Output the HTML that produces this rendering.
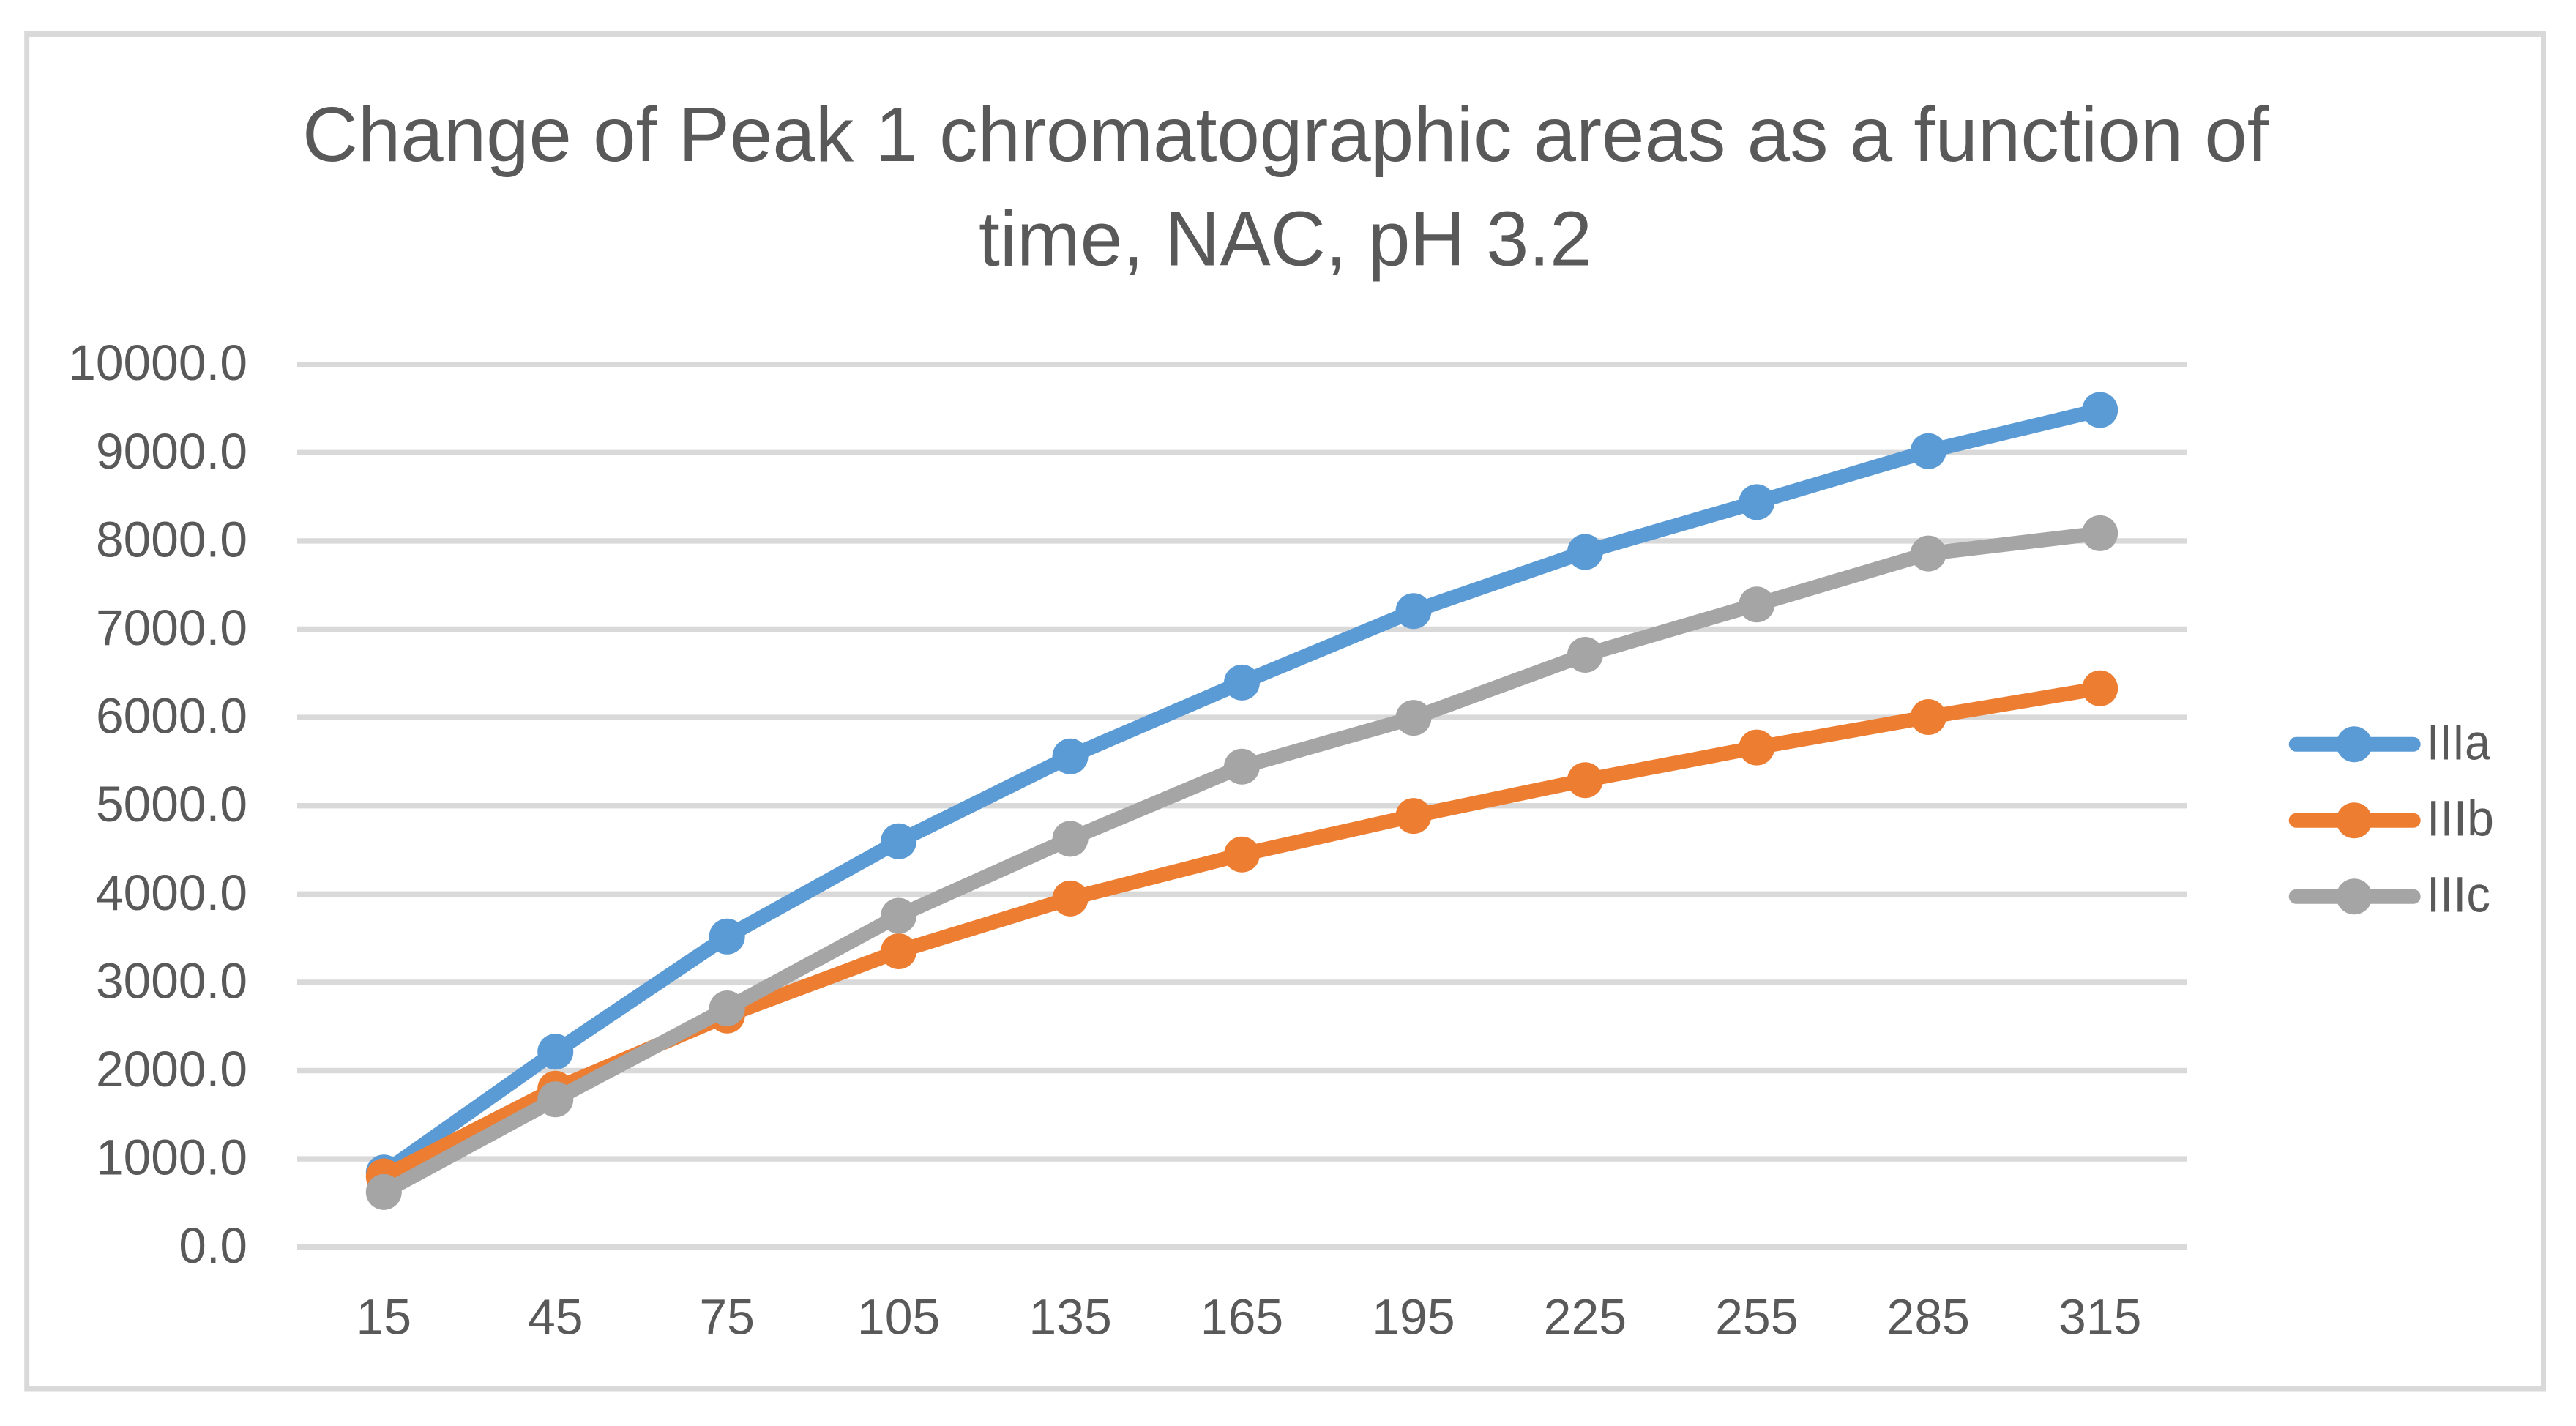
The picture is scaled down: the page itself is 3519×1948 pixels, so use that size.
<!DOCTYPE html>
<html lang="en">
<head>
<meta charset="utf-8">
<title>Change of Peak 1 chromatographic areas</title>
<style>
html,body{margin:0;padding:0;background:#fff;}
svg{display:block;}
text{font-family:"Liberation Sans",sans-serif;fill:#595959;}
</style>
</head>
<body>
<svg id="chart" xmlns="http://www.w3.org/2000/svg" width="3519" height="1948" viewBox="0 0 3519 1948">
  <rect x="0" y="0" width="3519" height="1948" fill="#ffffff"/>
  <rect x="36.7" y="46.5" width="3437.8" height="1850.5" fill="#ffffff" stroke="#d9d9d9" stroke-width="7"/>
  <g>
    <text x="413" y="220" font-size="106" textLength="2686" lengthAdjust="spacingAndGlyphs">Change of Peak 1 chromatographic areas as a function of</text>
    <text x="1337" y="362.7" font-size="106" textLength="838" lengthAdjust="spacingAndGlyphs">time, NAC, pH 3.2</text>
  </g>
  <g id="grid"></g>
  <g id="yticks"></g>
  <g id="xticks"></g>
  <g id="series"></g>
  <g id="legend"></g>
</svg>
<script>
const categories = [15, 45, 75, 105, 135, 165, 195, 225, 255, 285, 315];
const yTickValues = [0, 1000, 2000, 3000, 4000, 5000, 6000, 7000, 8000, 9000, 10000];
const yTickLabels = ["0.0", "1000.0", "2000.0", "3000.0", "4000.0", "5000.0", "6000.0", "7000.0", "8000.0", "9000.0", "10000.0"];
const seriesNames = ["IIIa", "IIIb", "IIIc"];
const seriesIIIa = [845, 2214, 3519, 4597, 5559, 6396, 7205, 7875, 8440, 9017, 9483];
const seriesIIIb = [802, 1795, 2624, 3352, 3950, 4448, 4885, 5290, 5660, 6005, 6330];
const seriesIIIc = [625, 1675, 2705, 3754, 4625, 5443, 5996, 6710, 7280, 7857, 8087];
const seriesColors = ["#5b9bd5", "#ed7d31", "#a5a5a5"];

const NS = "http://www.w3.org/2000/svg";
const PLOT_LEFT = 406, PLOT_RIGHT = 2987;
const Y_ZERO = 1703.7, Y_TOP = 497.7, Y_MAX = 10000;
const X_FIRST = 524.3, X_LAST = 2868.7;
const DIGIT_W = 37.8, DOT_W = 18;

function xScale(i) {
  return X_FIRST + i * (X_LAST - X_FIRST) / (categories.length - 1);
}
function yScale(v) {
  return Y_ZERO - (v / Y_MAX) * (Y_ZERO - Y_TOP);
}
function labelWidth(s) {
  let w = 0;
  for (const ch of String(s)) w += ch === "." ? DOT_W : DIGIT_W;
  return w;
}
function make(tag, attrs, parent) {
  const n = document.createElementNS(NS, tag);
  for (const k in attrs) n.setAttribute(k, attrs[k]);
  parent.appendChild(n);
  return n;
}

const grid = document.getElementById("grid");
const yticks = document.getElementById("yticks");
const xticks = document.getElementById("xticks");
const seriesGroup = document.getElementById("series");
const legend = document.getElementById("legend");

yTickValues.forEach(function (v, i) {
  const line = make("line", {x1: PLOT_LEFT, x2: PLOT_RIGHT, y1: yScale(v), y2: yScale(v), stroke: "#d9d9d9", "stroke-width": 7.4}, grid);
  
  
  const w = labelWidth(yTickLabels[i]);
  const t = make("text", {x: 338 - w, y: yScale(v) + 21.5, "font-size": 69, textLength: w, lengthAdjust: "spacingAndGlyphs"}, yticks);
  
  
  t.textContent = yTickLabels[i];
});

categories.forEach(function (c, i) {
  const w = labelWidth(c);
  const t = make("text", {x: xScale(i) - w / 2, y: 1822.7, "font-size": 69, textLength: w, lengthAdjust: "spacingAndGlyphs"}, xticks);
  
  
  t.textContent = c;
});

[seriesIIIa, seriesIIIb, seriesIIIc].forEach(function (values, s) {
  const g = make("g", {}, seriesGroup);
  
  
  const pts = values.map(function (v, i) { return xScale(i) + "," + yScale(v); }).join(" ");
  const line = make("polyline", {points: pts, fill: "none", stroke: seriesColors[s], "stroke-width": 20, "stroke-linejoin": "round", "stroke-linecap": "round"}, g);
  
  
  values.forEach(function (v, i) {
    const m = make("circle", {cx: xScale(i), cy: yScale(v), r: 24.5, fill: seriesColors[s]}, g);
    
    
  });
});

seriesNames.forEach(function (name, s) {
  const ly = 1016.7 + s * 104;
  const g = make("g", {}, legend);
  
  
  const l = make("line", {x1: 3136.7, x2: 3296.7, y1: ly, y2: ly, stroke: seriesColors[s], "stroke-width": 20, "stroke-linecap": "round"}, g);
  
  
  const c = make("circle", {cx: 3216, cy: ly, r: 24.5, fill: seriesColors[s]}, g);
  
  
  const t = make("text", {x: 3315, y: ly + 21, "font-size": 69, textLength: name === "IIIb" ? 92 : 87, lengthAdjust: "spacingAndGlyphs"}, g);
  
  
  t.textContent = name;
});
</script>
</body>
</html>
